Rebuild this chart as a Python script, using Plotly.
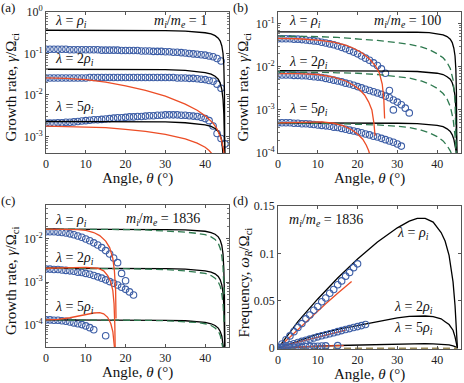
import numpy as np
import plotly.graph_objects as go

# ---------------------------------------------------------------- data
# angles (deg) of the simulation points, one per degree
deg = [0, 1, 2, 3, 4, 5, 6, 7, 8, 9, 10, 11, 12, 13, 14, 15, 16, 17, 18, 19, 20,
       21, 22, 23, 24, 25, 26, 27, 28, 29, 30, 31, 32, 33, 34, 35, 36, 37, 38, 39,
       40, 41, 42, 43, 44, 45]

# angles for the analytic (black) curves
th_theory = [0, 10, 20, 30, 35, 38, 40, 41.5, 42.5, 43.3, 43.8, 44.2, 44.5, 44.7, 44.85, 44.95]

# growth rates are kept as log10(gamma/Omega_ci)
# (a) mi/me = 1
a_sim_r1 = [-0.90, -0.90, -0.90, -0.90, -0.90, -0.90, -0.91, -0.91, -0.91, -0.91, -0.91,
            -0.91, -0.91, -0.91, -0.92, -0.92, -0.92, -0.92, -0.92, -0.93, -0.93,
            -0.93, -0.93, -0.93, -0.94, -0.94, -0.94, -0.95, -0.95, -0.95, -0.96,
            -0.96, -0.97, -0.97, -0.98, -0.99, -1.00, -1.01, -1.02, -1.03, -1.04,
            -1.06, -1.08, -1.12, -1.18]
a_sim_r2 = [-1.59, -1.59, -1.59, -1.59, -1.59, -1.59, -1.59, -1.59, -1.59, -1.59, -1.59,
            -1.58, -1.58, -1.58, -1.58, -1.58, -1.58, -1.58, -1.58, -1.58, -1.58,
            -1.58, -1.58, -1.58, -1.58, -1.58, -1.58, -1.58, -1.58, -1.58, -1.58,
            -1.58, -1.58, -1.59, -1.59, -1.59, -1.60, -1.60, -1.61, -1.62, -1.63,
            -1.65, -1.67, -1.74, -1.84]
a_sim_r5 = [-2.68, -2.68, -2.68, -2.67, -2.67, -2.66, -2.66, -2.65, -2.64, -2.63, -2.62,
            -2.61, -2.60, -2.60, -2.59, -2.58, -2.57, -2.56, -2.55, -2.55, -2.54,
            -2.53, -2.53, -2.52, -2.52, -2.51, -2.50, -2.50, -2.49, -2.49, -2.48,
            -2.48, -2.48, -2.48, -2.49, -2.49, -2.50, -2.51, -2.52, -2.54, -2.57,
            -2.62, -2.75, -2.93, -3.05, -3.18]
a_th_r1 = [-0.44, -0.44, -0.44, -0.45, -0.46, -0.48, -0.50, -0.53, -0.57, -0.63, -0.70, -0.82, -1.0, -1.3, -1.9, -3.5]
a_th_r2 = [-1.38, -1.38, -1.38, -1.39, -1.41, -1.43, -1.46, -1.50, -1.55, -1.62, -1.72, -1.87, -2.1, -2.45, -2.95, -3.5]
a_th_r5 = [-2.64, -2.64, -2.64, -2.65, -2.67, -2.70, -2.72, -2.76, -2.81, -2.88, -2.97, -3.10, -3.4, -3.7, -3.9, -4.0]
a_red_r2_th = [0, 5, 10, 15, 20, 25, 30, 35, 38, 40, 42, 43, 44, 44.6, 45]
a_red_r2 = [-1.59, -1.60, -1.63, -1.69, -1.78, -1.89, -2.03, -2.22, -2.37, -2.50, -2.68, -2.82, -3.05, -3.3, -3.6]
a_red_r5_th = [0, 5, 10, 15, 20, 25, 30, 35, 38, 40, 41, 42]
a_red_r5 = [-2.75, -2.76, -2.77, -2.79, -2.83, -2.88, -2.95, -3.06, -3.16, -3.26, -3.34, -3.45]

# (b) mi/me = 100
b_sim_r1 = [-1.35, -1.35, -1.35, -1.35, -1.36, -1.36, -1.37, -1.38, -1.39, -1.40, -1.41,
            -1.43, -1.45, -1.47, -1.49, -1.52, -1.55, -1.58, -1.62, -1.66, -1.70,
            -1.75, -1.80, -1.85, -1.91, -1.97, -2.05, -2.15, -2.55, -3.0]
b_sim_r2 = [-2.19, -2.19, -2.19, -2.19, -2.20, -2.20, -2.21, -2.21, -2.22, -2.23, -2.24,
            -2.25, -2.27, -2.29, -2.31, -2.33, -2.35, -2.38, -2.40, -2.43, -2.46,
            -2.49, -2.52, -2.55, -2.58, -2.61, -2.64, -2.68, -2.72, -2.77, -2.82,
            -2.88, -2.96, -3.07]
b_sim_r5 = [-3.30, -3.30, -3.30, -3.30, -3.31, -3.31, -3.32, -3.32, -3.33, -3.34, -3.35,
            -3.36, -3.37, -3.38, -3.40, -3.41, -3.43, -3.45, -3.47, -3.49, -3.51,
            -3.53, -3.56, -3.58, -3.61, -3.63, -3.66, -3.69, -3.72, -3.75, -3.79,
            -3.84]
b_th_r1 = [-1.19, -1.19, -1.19, -1.19, -1.20, -1.21, -1.23, -1.26, -1.30, -1.36, -1.44, -1.57, -1.75, -2.05, -2.6, -4.0]
b_th_r2 = [-2.09, -2.09, -2.09, -2.10, -2.11, -2.13, -2.15, -2.18, -2.23, -2.29, -2.37, -2.50, -2.68, -2.95, -3.4, -4.0]
b_th_r5 = [-3.30, -3.30, -3.30, -3.31, -3.32, -3.34, -3.36, -3.39, -3.44, -3.50, -3.58, -3.68, -3.80, -3.92, -4.0, -4.1]
b_grn_th = [0, 5, 10, 15, 20, 25, 30, 33, 36, 38, 40, 41.5, 42.5, 43.3, 44, 44.5, 44.8]
b_grn_r1 = [-1.29, -1.29, -1.30, -1.32, -1.35, -1.39, -1.44, -1.48, -1.54, -1.60, -1.70, -1.79, -1.90, -2.04, -2.3, -2.8, -4.0]
b_grn_r2 = [-2.12, -2.12, -2.13, -2.14, -2.15, -2.18, -2.22, -2.26, -2.33, -2.40, -2.50, -2.62, -2.75, -2.92, -3.2, -3.6, -4.1]
b_grn_r5 = [-3.30, -3.30, -3.31, -3.32, -3.33, -3.35, -3.38, -3.41, -3.47, -3.53, -3.62, -3.72, -3.83, -3.95, -4.1, -4.2, -4.3]
b_red_r1_th = [0, 5, 10, 14, 17, 19, 21, 23, 24.5, 25.5, 26.2, 26.6, 26.8]
b_red_r1 = [-1.34, -1.35, -1.38, -1.43, -1.50, -1.57, -1.67, -1.82, -1.98, -2.15, -2.4, -2.75, -3.2]
b_red_r2_th = [0, 5, 10, 14, 17, 19, 20.5, 21.8, 22.8, 23.6, 24.1, 24.4]
b_red_r2 = [-2.16, -2.16, -2.18, -2.24, -2.33, -2.43, -2.53, -2.66, -2.82, -3.0, -3.3, -3.6]
b_red_r5_th = [0, 4, 8, 11, 14, 16.5, 18.5, 20, 21.3, 22.2, 22.8, 23.1]
b_red_r5 = [-3.30, -3.29, -3.28, -3.28, -3.31, -3.37, -3.46, -3.56, -3.68, -3.82, -3.95, -4.05]

# (c) mi/me = 1836
c_sim_r1 = [-1.83, -1.83, -1.83, -1.84, -1.85, -1.86, -1.88, -1.90, -1.93, -1.96, -2.00,
            -2.04, -2.09, -2.14, -2.20, -2.27, -2.35, -2.44, -2.55, -2.80, -2.97]
c_sim_r2 = [-2.70, -2.70, -2.71, -2.71, -2.72, -2.73, -2.74, -2.75, -2.77, -2.78, -2.80,
            -2.82, -2.85, -2.88, -2.91, -2.95, -2.99, -3.03, -3.07, -3.12, -3.17,
            -3.23, -3.30]
c_sim_r5_th = [0, 1, 2, 3, 4, 5, 6, 7, 8, 9, 10, 11, 12, 15]
c_sim_r5 = [-3.88, -3.88, -3.89, -3.89, -3.90, -3.91, -3.93, -3.95, -3.97, -3.99, -4.02,
            -4.06, -4.11, -4.25]
c_th_r1 = [-1.77, -1.77, -1.77, -1.78, -1.79, -1.80, -1.82, -1.85, -1.89, -1.95, -2.03, -2.15, -2.35, -2.7, -3.3, -4.5]
c_th_r2 = [-2.68, -2.68, -2.68, -2.69, -2.70, -2.72, -2.74, -2.77, -2.81, -2.87, -2.95, -3.07, -3.25, -3.55, -4.0, -4.6]
c_th_r5 = [-3.88, -3.88, -3.88, -3.89, -3.90, -3.92, -3.94, -3.97, -4.01, -4.07, -4.15, -4.26, -4.4, -4.6, -4.8, -5.0]
c_grn_th = [0, 10, 20, 25, 30, 35, 38, 40, 41.5, 42.5, 43.3, 43.8, 44.2, 44.5, 44.8]
c_grn_r1 = [-1.77, -1.77, -1.78, -1.79, -1.81, -1.84, -1.87, -1.90, -1.95, -2.01, -2.10, -2.22, -2.4, -2.65, -3.3]
c_grn_r2 = [-2.68, -2.68, -2.69, -2.70, -2.71, -2.74, -2.77, -2.80, -2.85, -2.91, -3.00, -3.10, -3.28, -3.5, -4.0]
c_grn_r5 = [-3.88, -3.88, -3.88, -3.89, -3.90, -3.92, -3.94, -3.97, -4.01, -4.07, -4.14, -4.24, -4.38, -4.55, -4.9]
c_red_r1_th = [0, 5, 8, 10, 12, 13.5, 15, 16, 16.8, 17.2, 17.5, 17.6]
c_red_r1 = [-1.77, -1.77, -1.78, -1.80, -1.85, -1.92, -2.05, -2.2, -2.45, -2.75, -3.2, -3.85]
c_red_r2_th = [0, 5, 10, 13, 14.5, 15.5, 16.3, 16.8, 17.1, 17.3, 17.4]
c_red_r2 = [-2.68, -2.67, -2.66, -2.68, -2.74, -2.85, -3.0, -3.2, -3.5, -4.0, -4.6]
c_red_r5_th = [0, 3, 6, 9, 12, 13.5, 14.5, 15.5, 16.3, 16.8, 17.1, 17.3]
c_red_r5 = [-3.88, -3.87, -3.83, -3.77, -3.72, -3.71, -3.74, -3.82, -3.97, -4.15, -4.4, -4.6]

# (d) real frequency omega_R/Omega_ci, mi/me = 1836
d_sim_r1 = [0.001, 0.0045, 0.009, 0.013, 0.0175, 0.022, 0.026, 0.031, 0.035, 0.040, 0.044,
            0.049, 0.053, 0.058, 0.062, 0.067, 0.071, 0.076, 0.080, 0.085, 0.089]
d_sim_r2 = [0.0005, 0.0012, 0.0024, 0.0036, 0.0048, 0.006, 0.0072, 0.0084, 0.0096, 0.0108,
            0.012, 0.0131, 0.0142, 0.0153, 0.0164, 0.0175, 0.0186, 0.0197, 0.0207, 0.0218,
            0.0228, 0.0239, 0.025]
d_sim_r5_th = [0, 1, 2, 3, 4, 5, 6, 7, 8, 9, 10, 11, 12, 15]
d_sim_r5 = [0.0002, 0.0004, 0.0006, 0.0008, 0.001, 0.0012, 0.0014, 0.0016, 0.0018, 0.002,
            0.0021, 0.0023, 0.0025, 0.0028]
d_th = [0, 2, 5, 10, 15, 20, 25, 30, 33, 35, 37, 39, 41, 42, 43, 44, 44.5, 45.1]
d_th_r1 = [0, 0.011, 0.028, 0.052, 0.074, 0.094, 0.112, 0.127, 0.134, 0.137, 0.137, 0.133, 0.122, 0.113, 0.098, 0.070, 0.045, 0.0]
d_th_r2 = [0, 0.003, 0.008, 0.015, 0.020, 0.024, 0.028, 0.032, 0.0335, 0.034, 0.034, 0.0333, 0.031, 0.028, 0.025, 0.019, 0.012, 0.0]
d_th_r5 = [0, 0.0005, 0.0013, 0.0022, 0.0029, 0.0035, 0.004, 0.0045, 0.0047, 0.0048, 0.0048, 0.0046, 0.0043, 0.004, 0.0035, 0.0026, 0.0018, 0.0]
d_red_r1_th = [1, 3, 6, 9, 12, 15, 18.5]
d_red_r1 = [0.004, 0.012, 0.024, 0.036, 0.047, 0.058, 0.0705]
d_red_r2_th = [1, 5, 10, 15, 17]
d_red_r2 = [0.002, 0.0065, 0.012, 0.017, 0.019]
d_red_r5_th = [1, 5, 10, 13, 16.5]
d_red_r5 = [0.0008, 0.0016, 0.0023, 0.0026, 0.0028]
d_grn_th = [0, 45]
d_grn = [0, 0]

# ---------------------------------------------------------------- style
BLACK = "#000000"
RED = "#ec4d26"
GREEN = "#2f7a50"
BLUE = "#3d5ea6"
FONT = "'Liberation Serif', 'Times New Roman', 'DejaVu Serif', serif"


def lg(v):
    return np.power(10.0, np.array(v))


fig = go.Figure()


def add_line(ax, x, y, color, dash="solid", width=1.3):
    fig.add_trace(go.Scatter(x=x, y=y, mode="lines", xaxis="x" + ax, yaxis="y" + ax,
                             line=dict(color=color, width=width, dash=dash),
                             hoverinfo="skip"))


def add_sim(ax, x, y):
    fig.add_trace(go.Scatter(x=x, y=y, mode="markers", xaxis="x" + ax, yaxis="y" + ax,
                             marker=dict(symbol="circle-open", size=6.5, color=BLUE,
                                         line=dict(width=1.1))))


DASH = "7px,4px"

# (a)
add_sim("", deg[:len(a_sim_r1)], lg(a_sim_r1))
add_sim("", deg[:len(a_sim_r2)], lg(a_sim_r2))
add_sim("", deg[:len(a_sim_r5)], lg(a_sim_r5))
for v in (a_th_r1, a_th_r2, a_th_r5):
    add_line("", th_theory, lg(v), BLACK)
add_line("", a_red_r2_th, lg(a_red_r2), RED)
add_line("", a_red_r5_th, lg(a_red_r5), RED)

# (b)
add_sim("2", deg[:len(b_sim_r1)], lg(b_sim_r1))
add_sim("2", deg[:len(b_sim_r2)], lg(b_sim_r2))
add_sim("2", deg[:len(b_sim_r5)], lg(b_sim_r5))
for v in (b_th_r1, b_th_r2, b_th_r5):
    add_line("2", th_theory, lg(v), BLACK)
for v in (b_grn_r1, b_grn_r2, b_grn_r5):
    add_line("2", b_grn_th, lg(v), GREEN, DASH)
add_line("2", b_red_r1_th, lg(b_red_r1), RED)
add_line("2", b_red_r2_th, lg(b_red_r2), RED)
add_line("2", b_red_r5_th, lg(b_red_r5), RED)

# (c)
add_sim("3", deg[:len(c_sim_r1)], lg(c_sim_r1))
add_sim("3", deg[:len(c_sim_r2)], lg(c_sim_r2))
add_sim("3", c_sim_r5_th, lg(c_sim_r5))
for v in (c_th_r1, c_th_r2, c_th_r5):
    add_line("3", th_theory, lg(v), BLACK)
for v in (c_grn_r1, c_grn_r2, c_grn_r5):
    add_line("3", c_grn_th, lg(v), GREEN, DASH)
add_line("3", c_red_r1_th, lg(c_red_r1), RED)
add_line("3", c_red_r2_th, lg(c_red_r2), RED)
add_line("3", c_red_r5_th, lg(c_red_r5), RED)

# (d)
for v in (d_th_r1, d_th_r2, d_th_r5):
    add_line("4", d_th, v, BLACK)
add_line("4", d_grn_th, d_grn, "#9a8a5a", DASH, 1.6)
add_line("4", d_red_r1_th, d_red_r1, RED)
add_line("4", d_red_r2_th, d_red_r2, RED)
add_line("4", d_red_r5_th, d_red_r5, RED)
add_sim("4", deg[:len(d_sim_r1)], d_sim_r1)
add_sim("4", deg[:len(d_sim_r2)], d_sim_r2)
add_sim("4", d_sim_r5_th, d_sim_r5)

# ---------------------------------------------------------------- axes
W, H = 464, 383
PANELS = {"": (46, 229, 12, 153), "2": (278, 461, 12, 153),
          "3": (46, 229, 205, 347), "4": (278, 461, 206, 349)}


def xdom(l, r):
    return [l / W, r / W]


def ydom(t, b):
    return [1 - b / H, 1 - t / H]


tickfont = dict(family=FONT, size=12, color="#222")
titlefont = dict(family=FONT, size=15, color="#111")
common = dict(showline=True, linecolor="#555", linewidth=0.8, mirror="ticks",
              ticks="inside", ticklen=3, tickcolor="#555", showgrid=False,
              zeroline=False, tickfont=tickfont, automargin=False)

xt = dict(range=[0, 46], tickvals=[0, 10, 20, 30, 40], **common)


def minor_vals(lo, hi):
    return [m * 10.0 ** e for e in range(lo, hi) for m in range(2, 10)]


def logy(rng, exps, ax):
    l, r, t, b = PANELS[ax]
    return dict(type="log", range=rng, domain=ydom(t, b), anchor="x" + ax,
                tickvals=[10.0 ** e for e in exps],
                ticktext=["10<sup>%d</sup>" % e for e in exps],
                minor=dict(ticks="inside", ticklen=1.8, tickcolor="#777",
                           tickmode="array", tickvals=minor_vals(-6, 1)),
                **common)


fig.update_layout(
    width=W, height=H, margin=dict(l=0, r=0, t=0, b=0),
    paper_bgcolor="white", plot_bgcolor="white", showlegend=False,
    font=dict(family=FONT, color="#111"),
    xaxis=dict(domain=xdom(46, 229), anchor="y", **xt),
    xaxis2=dict(domain=xdom(278, 461), anchor="y2", **xt),
    xaxis3=dict(domain=xdom(46, 229), anchor="y3", **xt),
    xaxis4=dict(domain=xdom(278, 461), anchor="y4", **xt),
    yaxis=logy([-3.4, 0], [0, -1, -2, -3], ""),
    yaxis2=logy([-4, -0.73], [-1, -2, -3, -4], "2"),
    yaxis3=logy([-4.51, -1.21], [-2, -3, -4], "3"),
    yaxis4=dict(range=[-0.0008, 0.15], domain=ydom(206, 349), anchor="x4",
                tickvals=[0, 0.05, 0.1, 0.15], ticktext=["0", "0.05", "0.1", "0.15"],
                **common),
)

# ---------------------------------------------------------------- text
gtitle = "Growth rate, <i>γ</i>/Ω<sub>ci</sub>"
ftitle = "Frequency, <i>ω<sub>R</sub></i>/Ω<sub>ci</sub>"
for ax, ytxt in (("", gtitle), ("2", gtitle), ("3", gtitle), ("4", ftitle)):
    l, r, t, b = PANELS[ax]
    fig.add_annotation(xref="paper", yref="paper", x=(l + r) / 2 / W, y=1 - (b + 25) / H,
                       text="Angle, <i>θ</i> (°)", showarrow=False,
                       xanchor="center", yanchor="middle", font=titlefont)
    fig.add_annotation(xref="paper", yref="paper", x=(l - 34) / W, y=1 - ((t + b) / 2 + 5) / H,
                       text=ytxt, textangle=-90, showarrow=False,
                       xanchor="center", yanchor="middle", font=titlefont)

ann_font = dict(family=FONT, size=14, color="#111")
lam1 = "<i>λ</i> = <i>ρ<sub>i</sub></i>"
lam2 = "<i>λ</i> = 2<i>ρ<sub>i</sub></i>"
lam5 = "<i>λ</i> = 5<i>ρ<sub>i</sub></i>"


def note(ax, x, y, text, xanchor="left"):
    fig.add_annotation(xref="x%s domain" % ax, yref="y%s domain" % ax, x=x, y=y,
                       text=text, showarrow=False, xanchor=xanchor, yanchor="middle",
                       font=ann_font)


note("", 0.04, 0.93, lam1)
note("", 0.04, 0.66, lam2)
note("", 0.04, 0.32, lam5)
note("", 0.89, 0.93, "<i>m<sub>i</sub></i>/<i>m<sub>e</sub></i> = 1", "right")

note("2", 0.05, 0.93, lam1)
note("2", 0.05, 0.64, lam2)
note("2", 0.05, 0.31, lam5)
note("2", 0.90, 0.93, "<i>m<sub>i</sub></i>/<i>m<sub>e</sub></i> = 100", "right")

note("3", 0.04, 0.89, lam1)
note("3", 0.04, 0.62, lam2)
note("3", 0.04, 0.28, lam5)
note("3", 0.85, 0.90, "<i>m<sub>i</sub></i>/<i>m<sub>e</sub></i> = 1836", "right")

note("4", 0.05, 0.90, "<i>m<sub>i</sub></i>/<i>m<sub>e</sub></i> = 1836")
note("4", 0.74, 0.81, lam1, "center")
note("4", 0.74, 0.29, lam2, "center")
note("4", 0.74, 0.145, lam5, "center")

for lbl, px, py in (("(a)", 8, 8), ("(b)", 240, 8), ("(c)", 8, 200), ("(d)", 240, 200)):
    fig.add_annotation(xref="paper", yref="paper", x=px / W, y=1 - py / H, text=lbl,
                       showarrow=False, xanchor="center", yanchor="middle",
                       font=dict(family=FONT, size=13, color="#111"))

# drop the default page margin so the figure sits at the window's corner
fig.write_html("out.html", config={"displayModeBar": False},
               post_script="document.body.style.margin='0';")
